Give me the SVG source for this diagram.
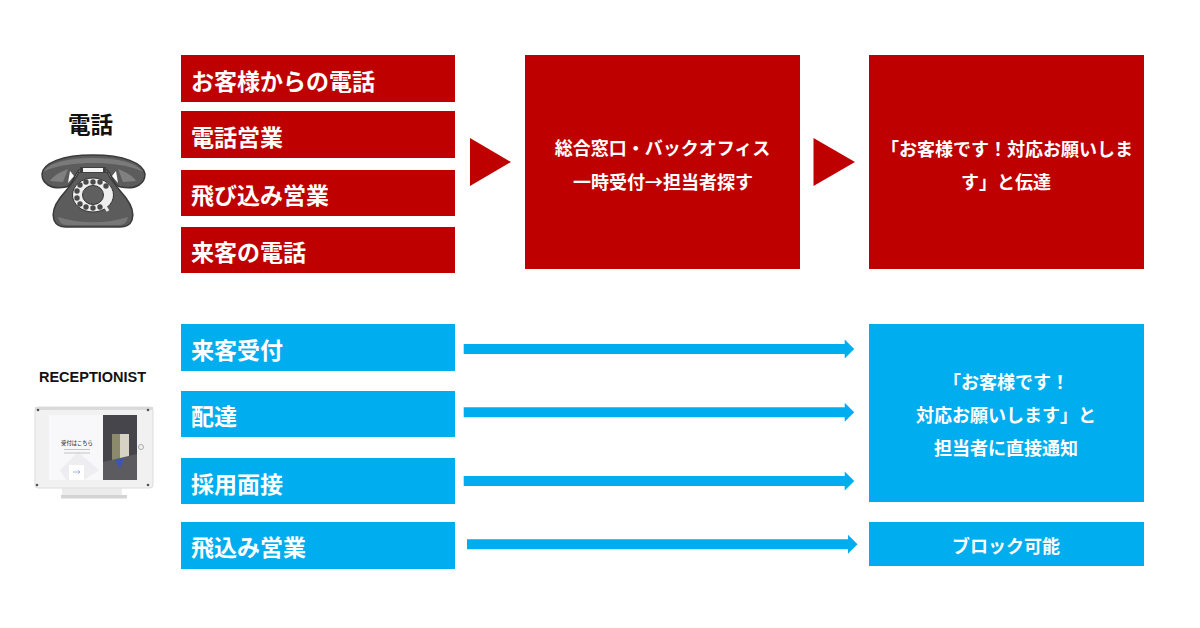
<svg xmlns="http://www.w3.org/2000/svg" width="1200" height="628" viewBox="0 0 1200 628">
<style>
text{font-family:"Noto Sans CJK JP","Liberation Sans",sans-serif;font-weight:700}
.r{fill:#bf0000}.b{fill:#00aeef}
.lg{fill:#fff;font-size:23px}
.md{fill:#fff;font-size:18px;text-anchor:middle}
.d{fill:#5c5c5c;stroke:#3a3a3a;stroke-width:1.500}
.hole{fill:#4a4a4a}
</style>
<defs>
<path id="arrow" d="M0-5H381V-9.500L390.500 0 381 9.500V5H0Z"/>
</defs>
<rect width="1200" height="628" fill="#fff"/>
<g id="phone-label"><text x="90.500" y="133" font-size="22.500" text-anchor="middle" fill="#111">電話</text></g>
<g id="phone-icon">
<path class="d" d="M79 172H107C113 184 120 190 126 198C132 206 134 214 132 220C130 225 126 227 120 227H66C60 227 56 225 54 220C52 214 54 206 60 198C66 190 73 184 79 172Z"/>
<path d="M58 217C80 224 106 224 128 217C127 222 124 225 119 225H67C62 225 59 222 58 217Z" fill="#777"/>
<path class="d" stroke="#fff" d="M66 187C50 190 42 183 42 174C43 163 62 155 93 155C124 155 143 163 145 174C145 183 137 190 121 187C113 186 113 176 107 170H79C73 176 73 186 66 187Z"/>
<path d="M43 172C50 162 70 158 93 158C116 158 136 162 143 172C130 165 110 163 93 163C76 163 56 165 43 172Z" fill="#7a7a7a"/>
<path d="M50 181C53 176 60 172 68 169L63 182Z" fill="#808080"/>
<path d="M136 181C133 176 126 172 118 169L123 182Z" fill="#808080"/>
<path d="M70 171L68 183 74 176Z" fill="#fff"/>
<path d="M116 171L118 183 112 176Z" fill="#fff"/>
<rect x="80" y="167" width="26" height="6" fill="#3f3f3f"/>
<rect x="83" y="168" width="20" height="4" fill="#f4f4f4"/>
<ellipse cx="93" cy="195" rx="20.500" ry="17" fill="#eee" stroke="#333"/>
<ellipse cx="93" cy="195" rx="10.500" ry="9.500" fill="#5f5f5f" stroke="#333"/>
<g class="hole">
<circle cx="93" cy="182" r="2.700"/><circle cx="100" cy="182" r="2.700"/><circle cx="106" cy="186" r="2.700"/><circle cx="86" cy="182" r="2.700"/><circle cx="80" cy="185" r="2.700"/><circle cx="77" cy="191" r="2.700"/><circle cx="77" cy="198" r="2.700"/><circle cx="80" cy="204" r="2.700"/><circle cx="86" cy="207" r="2.700"/><circle cx="93" cy="208" r="2.700"/><circle cx="100" cy="207" r="2.700"/>
</g>
<path d="M103 203L108 211" stroke="#eee" stroke-width="3"/>
</g>
<g id="receptionist-label"><text x="92.500" y="382" font-size="14.500" text-anchor="middle" fill="#111" style="font-family:'Liberation Sans',sans-serif">RECEPTIONIST</text></g>
<g id="tablet-icon">
<rect x="62" y="488" width="60" height="7" fill="#ececec"/>
<rect x="61" y="495" width="66" height="3.500" fill="#d4d4d4"/>
<rect x="35" y="407" width="118" height="81" rx="3" fill="#f1f1f1" stroke="#dcdcdc"/>
<rect x="35" y="407" width="118" height="3" fill="#dadada"/>
<rect x="49" y="415" width="54" height="65" fill="#f8f8fb"/>
<path d="M78 452L99 470 84 480H66L60 470Z" fill="#eeeef2"/>
<rect x="103" y="415" width="34" height="65" fill="#45454b"/>
<rect x="112" y="434" width="17" height="28" fill="#d6d3c4"/>
<path d="M112 434H120V462H112Z" fill="#8c8a6c"/>
<path d="M103 462L137 454V480H103Z" fill="#5c5c60"/>
<path d="M115 460L124 458 120 469Z" fill="#3f55b5"/>
<rect x="69" y="465" width="15" height="15" fill="#fff"/>
<path d="M73 472H80M78 470L80 472 78 474" stroke="#a5b4e0" fill="none"/>
<text x="77" y="445" font-size="5.300" text-anchor="middle" fill="#444" style="font-weight:500">受付はこちら</text>
<rect x="64" y="449" width="26" height="1" fill="#c4c4c4"/><rect x="64" y="452.500" width="26" height="1" fill="#c4c4c4"/>
<circle cx="141" cy="447" r="2.500" fill="none" stroke="#aaa"/>
<g fill="#555"><circle cx="38" cy="410" r="1.300"/><circle cx="148" cy="410" r="1.300"/><circle cx="37" cy="485" r="1.300"/><circle cx="148" cy="485" r="1.300"/></g>
</g>
<g id="tel-1"><rect class="r" x="181" y="55" width="274" height="47"/><text class="lg" x="191" y="90">お客様からの電話</text></g>
<g id="tel-2"><rect class="r" x="181" y="111" width="274" height="47"/><text class="lg" x="191" y="146">電話営業</text></g>
<g id="tel-3"><rect class="r" x="181" y="170" width="274" height="46"/><text class="lg" x="191" y="204">飛び込み営業</text></g>
<g id="tel-4"><rect class="r" x="181" y="227" width="274" height="46"/><text class="lg" x="191" y="261">来客の電話</text></g>
<g id="tel-center"><rect class="r" x="525" y="55" width="275" height="214"/><text class="md" x="662.500" y="155">総合窓口・バックオフィス</text><text class="md" x="663" y="189">一時受付→担当者探す</text></g>
<g id="tel-right"><rect class="r" x="869" y="55" width="275" height="214"/><text class="md" x="1007" y="156">「お客様です！対応お願いしま</text><text class="md" x="1006" y="189">す」と伝達</text></g>
<g id="rec-1"><rect class="b" x="181" y="324" width="274" height="47"/><text class="lg" x="191" y="359">来客受付</text></g>
<g id="rec-2"><rect class="b" x="181" y="391" width="274" height="46"/><text class="lg" x="191" y="425">配達</text></g>
<g id="rec-3"><rect class="b" x="181" y="458" width="274" height="46"/><text class="lg" x="191" y="493">採用面接</text></g>
<g id="rec-4"><rect class="b" x="181" y="522" width="274" height="47"/><text class="lg" x="191" y="556">飛込み営業</text></g>
<g id="rec-right"><rect class="b" x="869" y="324" width="275" height="178"/><text class="md" x="1006" y="389">「お客様です！</text><text class="md" x="1006" y="422">対応お願いします」と</text><text class="md" x="1006" y="455">担当者に直接通知</text></g>
<g id="rec-block"><rect class="b" x="869" y="522" width="275" height="44"/><text class="md" x="1006" y="553">ブロック可能</text></g>
<g id="connectors">
<polygon class="r" points="470,138 511,162 470,186"/>
<polygon class="r" points="813.500,138 855,162 813.500,186"/>
<use class="b" href="#arrow" transform="translate(463.700 349)"/>
<use class="b" href="#arrow" transform="translate(463.700 412.300)"/>
<use class="b" href="#arrow" transform="translate(463.700 481)"/>
<use class="b" href="#arrow" transform="translate(467 544.300)"/>
</g>
</svg>
